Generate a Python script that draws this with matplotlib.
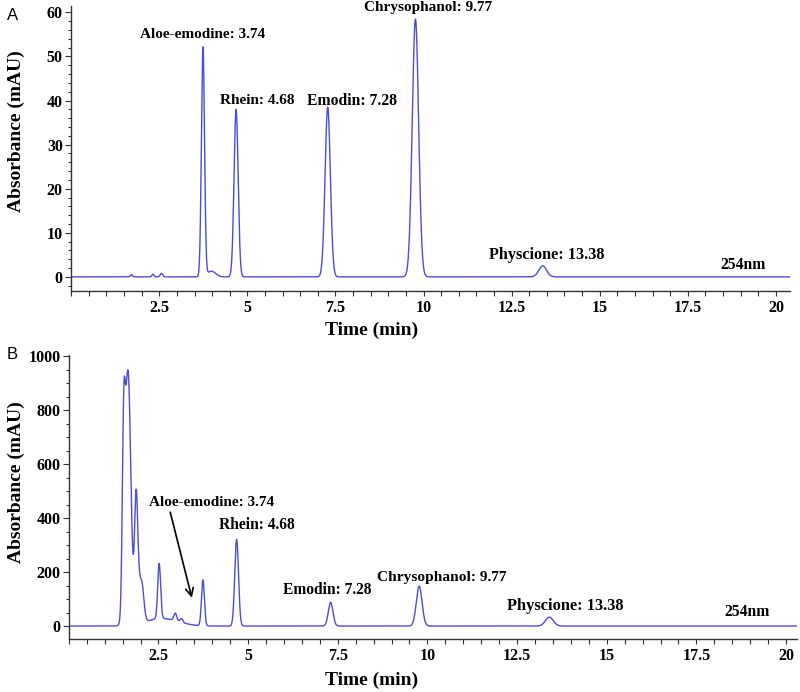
import numpy as np
import matplotlib
matplotlib.use("Agg")
import matplotlib.pyplot as plt
from matplotlib.ticker import MultipleLocator, FixedLocator

LINE = "#4b4bdc"
SERIF = "Liberation Serif"
SANS = "Liberation Sans"

# ── peak tables (centre min, height mAU, sigma min) ──
a_centres = [1.71, 2.32, 2.56, 3.74, 3.98, 4.68, 7.28, 9.77, 13.38]
a_heights = [0.5, 0.6, 0.8, 52.0, 1.3, 38.0, 38.5, 58.5, 2.5]
a_sigmas  = [0.03, 0.03, 0.035, 0.044, 0.12, 0.058, 0.075, 0.09, 0.11]

b_centres = [1.53, 1.65, 1.88, 1.96, 2.03, 2.60, 2.52, 2.97, 3.14, 3.74, 4.68, 7.30, 9.77, 13.40]
b_heights = [560, 940, 475, 45, 150, 28, 205, 28, 14, 170, 322, 88, 148, 33]
b_sigmas  = [0.04, 0.08, 0.045, 0.035, 0.06, 0.45, 0.04, 0.04, 0.04, 0.04, 0.052, 0.065, 0.08, 0.11]

# labels: (text, x, y, fontsize)
a_labels = [("Aloe-emodine: 3.74", 3.74, 55.0, 11),
            ("Rhein: 4.68", 5.27, 40.0, 11),
            ("Emodin: 7.28", 7.97, 40.0, 11.3),
            ("Chrysophanol: 9.77", 10.14, 61.2, 11),
            ("Physcione: 13.38", 13.51, 5.0, 11.7),
            ("254nm", 19.06, 2.7, 11.3)]
b_labels = [("Aloe-emodine: 3.74", 3.99, 459, 11),
            ("Rhein: 4.68", 5.25, 374, 11.2),
            ("Emodin: 7.28", 7.22, 133, 11.2),
            ("Chrysophanol: 9.77", 10.40, 181, 11.1),
            ("Physcione: 13.38", 13.84, 74, 11.8),
            ("254nm", 18.92, 52, 11.3)]

t = np.arange(0, 20.45, 0.004)


def trace(centres, heights, sigmas):
    y = np.zeros_like(t)
    for c, h, s in zip(centres, heights, sigmas):
        y += h * np.exp(-(t - c) ** 2 / (2 * s * s))
    return y


def style_axes(ax, xmax, ylim, ymajor, yminor):
    ax.set_xlim(0, xmax)
    ax.set_ylim(*ylim)
    for side in ("top", "right"):
        ax.spines[side].set_visible(False)
    for side in ("left", "bottom"):
        ax.spines[side].set_color("#333333")
        ax.spines[side].set_linewidth(1.0)
    ax.xaxis.set_major_locator(FixedLocator([2.5, 5, 7.5, 10, 12.5, 15, 17.5, 20]))
    ax.xaxis.set_minor_locator(MultipleLocator(0.5))
    ax.set_xticklabels(["2.5", "5", "7.5", "10", "12.5", "15", "17.5", "20"])
    ax.yaxis.set_major_locator(MultipleLocator(ymajor))
    ax.yaxis.set_minor_locator(MultipleLocator(yminor))
    ax.tick_params(axis="x", which="both", direction="out", length=3.5, width=0.8,
                   color="#333333", pad=3)
    ax.tick_params(axis="y", which="major", direction="out", length=4, width=0.8,
                   color="#333333", pad=2)
    ax.tick_params(axis="y", which="minor", direction="out", length=2.5, width=0.8,
                   color="#333333")
    for lab in ax.get_xticklabels() + ax.get_yticklabels():
        lab.set_fontfamily(SERIF)
        lab.set_fontweight("bold")
        lab.set_fontsize(11.5)


fig = plt.figure(figsize=(8, 6.92), dpi=100)

# ── panel A ────────────────────────────────────────────────────────────────────
axA = fig.add_axes([0.089, 0.5795, 0.8985, 0.4115])
axA.plot(t, trace(a_centres, a_heights, a_sigmas), color=LINE, lw=1.0)
style_axes(axA, 20.4, (-3.2, 61.4), 10, 2)
for txt, x, y, fs in a_labels:
    axA.text(x, y, txt, ha="center", va="center", fontsize=fs, family=SERIF,
             fontweight="bold", clip_on=False)

# ── panel B ────────────────────────────────────────────────────────────────────
axB = fig.add_axes([0.086, 0.0766, 0.91, 0.4104])
axB.plot(t, trace(b_centres, b_heights, b_sigmas), color=LINE, lw=1.0)
style_axes(axB, 20.3, (-48, 1005), 200, 50)
for txt, x, y, fs in b_labels:
    axB.text(x, y, txt, ha="center", va="center", fontsize=fs, family=SERIF,
             fontweight="bold", clip_on=False)
axB.annotate("", xy=(3.45, 95), xytext=(2.81, 432),
             arrowprops=dict(arrowstyle="->", color="black", lw=1.2,
                             mutation_scale=14))

# axis titles and panel letters
for yc_label, yc_time in ((131, 330), (482, 680)):
    fig.text(16 / 800, 1 - yc_label / 692, "Absorbance (mAU)", rotation=90,
             ha="center", va="center", fontsize=14, family=SERIF, fontweight="bold")
    fig.text(372 / 800, 1 - yc_time / 692, "Time (min)", ha="center", va="center",
             fontsize=14, family=SERIF, fontweight="bold")
fig.text(13 / 800, 1 - 15 / 692, "A", ha="center", va="center", fontsize=12, family=SANS)
fig.text(12 / 800, 1 - 355 / 692, "B", ha="center", va="center", fontsize=12, family=SANS)

fig.savefig("out.png", dpi=100, facecolor="white")
